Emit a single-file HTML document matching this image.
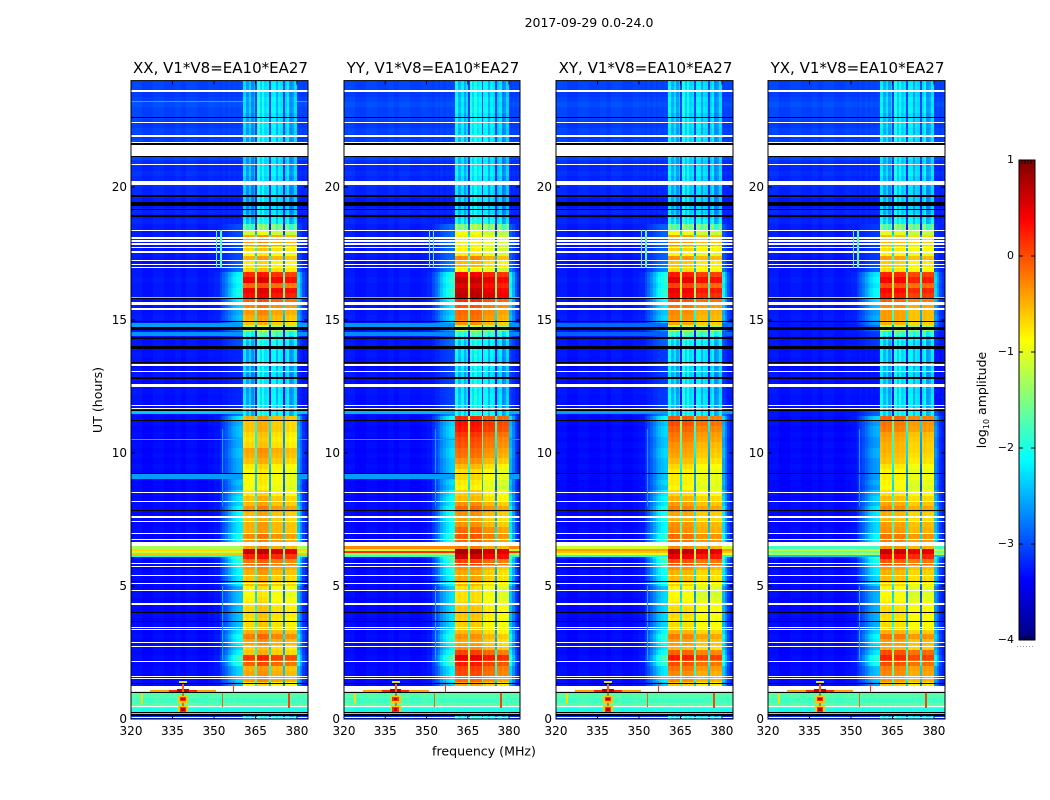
<!DOCTYPE html>
<html>
<head>
<meta charset="utf-8">
<title>2017-09-29 0.0-24.0</title>
<style>
html,body{margin:0;padding:0;background:#fff;width:1050px;height:800px;overflow:hidden}
svg{display:block}
text{font-family:"DejaVu Sans","Liberation Sans",sans-serif;fill:#000}
</style>
</head>
<body>
<svg id="figure" xmlns="http://www.w3.org/2000/svg" width="1050" height="800" viewBox="0 0 1050 800">
<text x="589" y="27" font-size="12.5" text-anchor="middle">2017-09-29 0.0-24.0</text>
<text transform="translate(102,400) rotate(-90)" font-size="12.6" text-anchor="middle">UT (hours)</text>
<text x="484" y="755.5" font-size="12.6" text-anchor="middle">frequency (MHz)</text>
<text transform="translate(986,400) rotate(-90)" font-size="12.5" text-anchor="middle">log<tspan font-size="8" dy="3">10</tspan><tspan dy="-3"> amplitude</tspan></text>
<g id="panels"></g>
<g id="colorbar"></g>
</svg>
<script>
// ---------- axis ticks ----------
const freqTicks = [320, 335, 350, 365, 380];
const hourTicks = [0, 5, 10, 15, 20];
const colorTicks = [1, 0, -1, -2, -3, -4];

// ---------- frequency channels (MHz edges; one more edge than channels) ----------
const channelEdges = [320,324,328,332,336,338,340,344,348,350,352,353,354,355,356,357,358,359,360,360.5,
361.5,362.5,363.5,364.3,365,365.7,
366.5,367.3,368.2,369,370,370.6,
371.5,372.3,373.2,374,375,375.7,
376.5,377.3,378.2,379,380,
381,382,383,384];
// sub-band membership of each channel (-1 = outside the receiver band)
const channelBand = [-1,-1,-1,-1,-1,-1,-1,-1,-1,-1,-1,-1,-1,-1,-1,-1,-1,-1,-1,
0,0,0,0,0,0,
1,1,1,1,1,1,
2,2,2,2,2,2,
3,3,3,3,3,
-1,-1,-1,-1];
// log10 offset of each channel relative to its sub-band / the noise floor
const channelOffset = [0.03,-0.03,0.02,-0.02,0.02,-0.03,0.03,-0.02,0.02,0,-0.03,0.02,-0.02,0.03,-0.02,0.02,0,0.02,-0.02,
-0.02,0.05,-0.02,0.03,0,-1.4,
0.03,0.07,0,0.04,0,-1.7,
0.05,0,0.05,0,0.03,-1.9,
0,0.05,-0.02,0.03,0,
-0.02,0.02,-0.02,0.02];
// extra bandpass ripple, visible only while the in-band signal is weak
const channelRipple = [0,0,0,0,0,0,0,0,0,0,0,0,0,0,0,0,0,0,0,
0.2,-0.25,0.1,-0.3,0,0,
0.35,-0.05,0.3,0,0.15,0,
0.3,0.35,-0.1,0.3,0.2,0,
0.2,0.3,-0.15,-0.1,0.25,
0,0,0,0];
// how strongly the band-edge skirt leaks into each channel
const channelSkirt = [0,0,0,0,0,0,0,0,0,0.06,0.2,0.3,0.45,0.6,0.75,0.85,0.95,1,1,
0,0,0,0,0,0,
0,0,0,0,0,0,
0,0,0,0,0,0,
0,0,0,0,0,
0.85,0.55,0.25,0.1];

// ---------- time rows: 120 rows of 0.2 h each, listed from 24 h down to 0 h ----------
const floorLevel = [
-3.05,-3.05,-3.1,-3.05,-3.0,-3.05,-3.05,-3.05,-3.1,-3.05,
-3.1,-3.05,-3.1,-3.05,-3.05,-3.15,-3.2,-3.15,-3.2,-3.15,
-3.2,-3.2,-3.25,-3.25,-3.2,-3.25,-3.2,-3.25,-3.25,-3.25,
-3.28,-3.28,-3.26,-3.28,-3.3,-3.28,-3.28,-3.26,-3.28,-3.28,
-3.28,-3.3,-3.28,-3.28,-3.26,-3.28,-3.28,-3.28,-3.3,-3.28,
-3.3,-3.28,-3.3,-3.33,-3.3,-3.28,-3.33,-3.3,-3.28,-3.3,
-3.3,-3.33,-3.3,-3.33,-3.33,-3.36,-3.33,-3.36,-3.33,-3.36,
-3.33,-3.36,-3.33,-3.36,-3.33,-3.36,-3.36,-3.33,-3.36,-3.33,
-3.33,-3.36,-3.33,-3.36,-3.33,-3.36,-3.33,-3.33,-3.36,-3.33,
-3.33,-3.36,-3.33,-3.36,-3.33,-3.36,-3.33,-3.36,-3.33,-3.36,
-3.33,-3.36,-3.33,-3.36,-3.33,-3.36,-3.33,-3.36,-3.33,-3.36,
-3.33,-3.33,-3.33,-3.33,-3.15,-1.72,-1.8,-1.68,-2.0,-3.15];
const skirtLevel = [
-9,-9,-9,-9,-9,-9,-9,-9,-9,-9,
-9,-9,-9,-9,-9,-9,-9,-9,-9,-9,
-9,-9,-9,-9,-9,-9,-9,-3.0,-3.0,-3.0,
-3,-3,-3,-3,-2.9,-2.8,-2.1,-2,-2.1,-2,
-2,-2.2,-2.3,-2.5,-2.4,-2.5,-2.7,-3,-3,-3,
-3.2,-3.2,-3.2,-3.2,-3.2,-3.2,-3.2,-3.2,-3.2,-3.2,
-3.2,-3.2,-2.8,-2.2,-2.5,-2.4,-2.4,-2.5,-2.5,-2.4,
-2.4,-2.5,-2.5,-2.5,-2.5,-2.4,-2.5,-2.3,-2.2,-2.3,
-2.1,-2.1,-2.1,-2.2,-2.2,-2.0,-2.0,-2.1,-1.5,-1.7,
-1.9,-2.1,-2.1,-2.2,-2.2,-2.5,-2.4,-2.4,-2.4,-2.4,
-2.4,-2.4,-2.4,-2.2,-2.0,-2.1,-2.3,-2.1,-1.8,-1.9,
-2.3,-2.3,-2.3,-2.5,-9,-9,-9,-9,-9,-9];

// In-band amplitude per row for each correlation (-9 = no in-band signal)
const xxInband = [
-2.45,-2.4,-2.5,-2.4,-2.45,-2.4,-2.5,-2.45,-2.4,-2.45,
-2.4,-2.45,-2.5,-2.4,-2.45,-2.5,-2.45,-2.4,-2.5,-2.45,
-2.5,-2.5,-2.5,-2.55,-2.5,-2.4,-2.3,-1.7,-1.1,-0.45,
-0.4,-0.7,-0.9,-0.5,-0.8,-0.7,0.15,0.4,-0.15,0.4,
0.3,-0.1,-0.3,-0.4,-0.5,-0.6,-1.3,-1.9,-2.2,-2.3,
-2.4,-2.4,-2.4,-2.45,-2.4,-2.5,-2.4,-2.4,-2.45,-2.4,
-2.4,-2.4,-2.3,-0.5,-0.6,-0.6,-0.7,-0.75,-0.7,-0.45,
-0.5,-0.6,-0.8,-0.9,-0.9,-0.9,-0.95,-0.8,-0.6,-0.55,
-0.35,-0.55,-0.6,-0.5,-0.5,-0.3,-0.4,-0.45,0.6,0.2,
-0.2,-0.4,-0.5,-0.6,-0.6,-0.85,-0.9,-0.85,-0.75,-0.7,
-0.7,-0.75,-0.7,-0.5,-0.25,-0.45,-0.7,-0.6,0.1,-0.1,
-0.5,-0.45,-0.4,-0.8,-9,-9,-9,-9,-9,-2.4];
const yyInband = [
-2.45,-2.4,-2.5,-2.4,-2.45,-2.4,-2.5,-2.45,-2.4,-2.45,
-2.4,-2.45,-2.5,-2.4,-2.45,-2.5,-2.45,-2.4,-2.5,-2.45,
-2.5,-2.5,-2.5,-2.55,-2.5,-2.4,-2.3,-1.6,-1.1,-0.95,
-0.95,-1,-0.95,-0.45,-0.7,-1,0.25,0.5,0.35,0.5,
0.55,0,-0.2,-0.3,-0.35,-0.5,-1.4,-2,-2.3,-2.4,
-2.4,-2.4,-2.45,-2.4,-2.45,-2.5,-2.4,-2.4,-2.45,-2.4,
-2.4,-2.4,-2.3,0,0.15,0.1,-0.05,-0.15,-0.2,-0.3,
-0.35,-0.5,-0.7,-0.9,-0.85,-0.95,-1,-0.8,-0.7,-0.5,
-0.3,-0.5,-0.6,-0.5,-0.3,-0.2,-0.3,-0.4,0.65,0.45,
-0.1,-0.5,-0.6,-0.6,-0.7,-0.9,-0.9,-0.9,-0.8,-0.75,
-0.75,-0.8,-0.8,-0.7,-0.5,-0.6,-0.5,-0.1,0.3,0.1,
-0.1,-0.15,-0.3,-0.6,-9,-9,-9,-9,-9,-2.4];
const xyInband = [
-2.45,-2.4,-2.5,-2.4,-2.45,-2.4,-2.5,-2.45,-2.4,-2.45,
-2.4,-2.45,-2.5,-2.4,-2.45,-2.5,-2.45,-2.4,-2.5,-2.45,
-2.5,-2.5,-2.5,-2.55,-2.5,-2.4,-2.3,-1.7,-1.05,-0.5,
-0.45,-0.75,-0.95,-0.45,-0.7,-0.8,0.15,0.4,-0.05,0.35,
0.25,-0.1,-0.3,-0.4,-0.45,-0.55,-1.3,-1.9,-2.2,-2.3,
-2.4,-2.4,-2.4,-2.45,-2.4,-2.5,-2.4,-2.4,-2.45,-2.4,
-2.4,-2.4,-2.3,-0.15,-0.1,-0.2,-0.3,-0.35,-0.45,-0.5,
-0.55,-0.65,-0.8,-0.9,-0.9,-0.9,-0.95,-0.8,-0.6,-0.5,
-0.35,-0.55,-0.6,-0.45,-0.4,-0.25,-0.3,-0.4,0.6,0.35,
-0.1,-0.45,-0.6,-0.65,-0.75,-0.95,-1,-0.95,-0.85,-0.8,
-0.8,-0.85,-0.8,-0.6,-0.35,-0.5,-0.65,-0.2,0.15,-0.1,
-0.3,-0.4,-0.4,-0.7,-9,-9,-9,-9,-9,-2.4];
const yxInband = [
-2.45,-2.4,-2.5,-2.4,-2.45,-2.4,-2.5,-2.45,-2.4,-2.45,
-2.4,-2.45,-2.5,-2.4,-2.45,-2.5,-2.45,-2.4,-2.5,-2.45,
-2.5,-2.5,-2.5,-2.55,-2.5,-2.4,-2.3,-1.7,-1.1,-0.65,
-0.6,-0.85,-0.95,-0.5,-0.75,-0.85,0.1,0.3,-0.1,0.25,
0.15,-0.2,-0.4,-0.5,-0.5,-0.6,-1.4,-2,-2.3,-2.4,
-2.4,-2.4,-2.4,-2.45,-2.4,-2.5,-2.4,-2.4,-2.45,-2.4,
-2.4,-2.4,-2.3,-0.2,-0.3,-0.35,-0.5,-0.55,-0.6,-0.6,
-0.65,-0.7,-0.85,-0.95,-0.9,-0.95,-1,-0.85,-0.65,-0.55,
-0.4,-0.6,-0.65,-0.5,-0.45,-0.3,-0.35,-0.45,0.55,0.25,
-0.15,-0.5,-0.6,-0.65,-0.75,-0.95,-1,-0.95,-0.85,-0.8,
-0.8,-0.85,-0.8,-0.6,-0.3,-0.5,-0.6,-0.1,0.1,-0.1,
-0.35,-0.4,-0.45,-0.7,-9,-9,-9,-9,-9,-2.4];

// sub-band offsets [360-365, 366-370, 371-375, 376-380] per correlation
const xxSubband = [0, 0.1, -0.05, -0.1];
const yySubband = [0.15, 0.15, -0.05, -0.15];
const xySubband = [0.1, 0.05, -0.1, -0.1];
const yxSubband = [0.1, 0.05, -0.1, -0.05];
const skirtOffsets = [0, 0.15, 0.1, -0.1];

// Broadband interference per correlation: [hour start, hour end, log10 amplitude]
const xxBroadband = [[23.25,23.2,-2.5],[15.88,15.82,-0.5],[14.90,14.71,-2.6],[14.56,14.40,-2.65],[11.57,11.47,-2.4],[10.52,10.48,-2.5],[9.21,9.03,-2.6],[6.50,6.39,-1.3],[6.39,6.32,-0.7],[6.32,6.24,-1.2],[6.24,6.17,-0.6],[6.17,6.09,-2.0]];
const yyBroadband = [[15.88,15.82,-0.4],[14.90,14.71,-2.65],[14.56,14.40,-2.7],[11.57,11.47,-2.5],[10.52,10.48,-2.6],[9.21,9.03,-2.6],[6.50,6.39,-0.3],[6.39,6.32,-1.1],[6.32,6.24,0.15],[6.24,6.17,-1.4],[6.17,6.09,-1.9]];
const xyBroadband = [[15.88,15.82,-1.2],[14.90,14.71,-2.85],[14.56,14.40,-2.9],[11.57,11.47,-2.6],[6.50,6.39,-1.1],[6.39,6.32,-0.4],[6.32,6.24,-0.6],[6.24,6.17,-1.0],[6.17,6.09,-2.0]];
const yxBroadband = [[15.88,15.82,-0.7],[6.50,6.39,-1.8],[6.39,6.32,-1.2],[6.32,6.24,-1.6],[6.24,6.17,-1.3],[6.17,6.09,-2.4]];

// Narrow-band interference: [centre MHz, width MHz, hour start, hour end, log10 amplitude]
const rfiSpikes = [
[352,64,1.07,1.015,-1.0],[338.8,24,1.09,1.015,-0.4],[338.8,10,1.1,1.015,0.2],[338.8,4,1.12,1.0,0.7],
[338.8,0.8,1.35,0.28,-0.1],
[338.8,3.6,0.88,0.62,-0.6],[338.8,2.4,0.84,0.66,0.15],[338.8,1.2,0.8,0.7,0.7],
[338.8,3.6,0.48,0.22,-0.6],[338.8,2.4,0.44,0.26,0.15],[338.8,1.2,0.4,0.3,0.7],
[338.8,3,1.42,1.3,-1.3],[338.8,1.4,1.38,1.3,-0.7],
[377,0.7,0.98,0.4,0.05],[353,0.5,0.98,0.45,-0.1],[357,0.5,1.42,0.98,0.1],[324,0.6,0.95,0.6,-0.7],
[351,0.5,18.4,16.95,-1.75],[352.6,0.5,18.4,16.95,-1.75],[353.2,0.4,5.0,2.2,-2.5],[353.2,0.4,10.9,8.0,-2.6]];

// Flagged (blank) time ranges in hours: [start, end]
const whiteFlags = [[23.65,23.59],[22.44,22.39],[21.97,21.88],[21.69,21.64],[21.58,21.17],[20.88,20.83],[20.21,20.16],[20.15,20.09],[18.40,18.35],[18.12,18.06],[18.01,17.95],[17.88,17.82],[17.76,17.71],[17.58,17.52],[17.26,17.20],[17.12,17.07],[17.01,16.95],[15.68,15.55],[15.46,15.38],[13.33,13.27],[13.09,13.06],[12.59,12.49],[11.79,11.76],[11.69,11.65],[8.53,8.50],[8.20,8.16],[7.63,7.55],[7.43,7.39],[6.98,6.94],[6.77,6.73],[6.64,6.50],[5.85,5.82],[5.75,5.71],[5.40,5.36],[5.11,5.08],[4.85,4.81],[4.35,4.27],[3.47,3.43],[3.39,3.36],[2.88,2.85],[2.74,2.71],[2.17,2.13],[1.62,1.58],[1.53,1.49],[1.25,1.07],[0.47,0.44],[0.09,0.06]];
const blackFlags = [[22.63,22.58],[21.64,21.58],[21.17,21.13],[19.70,19.64],[19.45,19.29],[19.17,19.12],[18.95,18.89],[15.83,15.78],[14.96,14.92],[14.72,14.64],[14.35,14.27],[14.02,13.92],[13.43,13.39],[12.85,12.78],[11.62,11.58],[11.24,11.20],[9.26,9.21],[7.87,7.83],[5.18,5.14],[4.03,3.99],[3.68,3.65],[1.36,1.32],[1.015,0.98],[0.28,0.23],[0.17,0.13]];

const panelTitles = ["XX, V1*V8=EA10*EA27","YY, V1*V8=EA10*EA27","XY, V1*V8=EA10*EA27","YX, V1*V8=EA10*EA27"];
const panelLefts = [131, 344, 556, 768];
const panelWidths = [177, 176, 177, 177];
const panelInband = [xxInband, yyInband, xyInband, yxInband];
const panelSubband = [xxSubband, yySubband, xySubband, yxSubband];
const panelBroadband = [xxBroadband, yyBroadband, xyBroadband, yxBroadband];

// ---------- scales ----------
const NS = "http://www.w3.org/2000/svg";
const plotTop = 80.6, plotBottom = 719, hourMax = 24, freqMin = 320, freqMax = 384;
const levelMin = -4, levelMax = 1;
function yScale(h) { return plotBottom - (h / hourMax) * (plotBottom - plotTop); }
function xScale(p, f) { return panelLefts[p] + (f - freqMin) / (freqMax - freqMin) * panelWidths[p]; }
function jetPart(x) { return Math.max(0, Math.min(1, x)); }
function jet(level) {
  const t = jetPart((level - levelMin) / (levelMax - levelMin));
  const r = jetPart(Math.min(4 * t - 1.5, -4 * t + 4.5));
  const g = jetPart(Math.min(4 * t - 0.5, -4 * t + 3.5));
  const b = jetPart(Math.min(4 * t + 0.5, -4 * t + 2.5));
  return "rgb(" + Math.round(r * 255) + "," + Math.round(g * 255) + "," + Math.round(b * 255) + ")";
}
function rectEl(parent, x0, y0, x1, y1, fill) {
  const r = document.createElementNS(NS, "rect");
  const rx = Math.round(x0), ry = Math.round(y0);
  r.setAttribute("x", rx);
  r.setAttribute("y", ry);
  r.setAttribute("width", Math.max(1, Math.round(x1) - rx));
  r.setAttribute("height", Math.max(1, Math.round(y1) - ry));
  r.setAttribute("fill", fill);
  parent.appendChild(r);
  return r;
}
function textEl(parent, x, y, str, size, anchor) {
  const t = document.createElementNS(NS, "text");
  t.setAttribute("x", x);
  t.setAttribute("y", y);
  t.setAttribute("font-size", size);
  t.setAttribute("text-anchor", anchor);
  t.textContent = str;
  parent.appendChild(t);
  return t;
}
function cellLevel(p, row, ch) {
  const band = channelBand[ch];
  const floor = floorLevel[row] + (band < 0 ? channelOffset[ch] : 0);
  let v = floor;
  if (skirtLevel[row] > -9 && channelSkirt[ch] > 0) {
    const s = skirtLevel[row] + skirtOffsets[p];
    v = Math.max(v, floor + (s - floor) * channelSkirt[ch]);
  }
  const inband = panelInband[p][row];
  if (band >= 0 && inband > -9) {
    const ripple = inband < -1.5 ? channelRipple[ch] : 0;
    v = Math.max(v, inband + panelSubband[p][band] + channelOffset[ch] + ripple);
  }
  return v;
}

// ---------- panels ----------
const panelsGroup = document.getElementById("panels");
panelTitles.forEach(function (title, p) {
  const g = document.createElementNS(NS, "g");
  
  
  panelsGroup.appendChild(g);

  const hm = document.createElementNS(NS, "g");
  hm.setAttribute("shape-rendering", "crispEdges");
  
  
  g.appendChild(hm);

  const rowHours = hourMax / floorLevel.length;
  floorLevel.forEach(function (_, row) {
    const hTop = hourMax - row * rowHours, hBot = hTop - rowHours;
    for (let ch = 0; ch < channelEdges.length - 1; ch++) {
      const cell = rectEl(hm, xScale(p, channelEdges[ch]), yScale(hTop), xScale(p, channelEdges[ch + 1]), yScale(hBot), jet(cellLevel(p, row, ch)));
      
      
    }
  });

  // broadband rows keep the in-band channels at their own level
  panelBroadband[p].forEach(function (b) {
    const x0 = xScale(p, freqMin), x1 = xScale(p, 360.5);
    const line = rectEl(hm, x0, yScale(b[0]), x1, yScale(b[1]), jet(b[2]));
    
    
    const right = rectEl(hm, xScale(p, 380), yScale(b[0]), xScale(p, freqMax), yScale(b[1]), jet(b[2]));
    
    
  });

  whiteFlags.forEach(function (f) {
    const flag = rectEl(hm, xScale(p, freqMin), yScale(f[0]), xScale(p, freqMax), yScale(f[1]), "#fff");
    
    
  });

  rfiSpikes.forEach(function (s) {
    const spike = rectEl(hm, xScale(p, s[0] - s[1] / 2), yScale(s[2]), xScale(p, s[0] + s[1] / 2), yScale(s[3]), jet(s[4]));
    
    
  });

  blackFlags.forEach(function (f) {
    const flag = rectEl(hm, xScale(p, freqMin), yScale(f[0]), xScale(p, freqMax), yScale(f[1]), "#000");
    
    
  });

  // frame
  const left = panelLefts[p], right = panelLefts[p] + panelWidths[p];
  const frame = document.createElementNS(NS, "rect");
  frame.setAttribute("x", left);
  frame.setAttribute("y", plotTop);
  frame.setAttribute("width", panelWidths[p]);
  frame.setAttribute("height", plotBottom - plotTop);
  frame.setAttribute("fill", "none");
  frame.setAttribute("stroke", "#000");
  frame.setAttribute("stroke-width", "1");
  
  
  g.appendChild(frame);

  // ticks
  freqTicks.forEach(function (f) {
    const x = xScale(p, f);
    const t = document.createElementNS(NS, "path");
    t.setAttribute("d", "M" + x + " " + plotBottom + "v-4M" + x + " " + plotTop + "v4");
    t.setAttribute("stroke", "#000");
    t.setAttribute("fill", "none");
    
    
    g.appendChild(t);
    const label = textEl(g, x, 735, String(f), 12, "middle");
    
    
  });
  hourTicks.forEach(function (h) {
    const y = yScale(h);
    const t = document.createElementNS(NS, "path");
    t.setAttribute("d", "M" + left + " " + y + "h4M" + right + " " + y + "h-4");
    t.setAttribute("stroke", "#000");
    t.setAttribute("fill", "none");
    
    
    g.appendChild(t);
    const label = textEl(g, left - 4, y + 4, String(h), 12, "end");
    
    
  });

  const titleEl = textEl(g, left + panelWidths[p] / 2 + 1, 73, title, 15, "middle");
  
  
});

// ---------- colorbar ----------
const cbGroup = document.getElementById("colorbar");
const cbLeft = 1019, cbRight = 1035, cbTop = 160, cbBottom = 640;
function cbY(level) { return cbBottom - (level - levelMin) / (levelMax - levelMin) * (cbBottom - cbTop); }
const cbSwatches = document.createElementNS(NS, "g");
cbSwatches.setAttribute("shape-rendering", "crispEdges");


cbGroup.appendChild(cbSwatches);
for (let py = cbTop; py < cbBottom; py += 2) {
  const lvl = levelMax - (py + 1 - cbTop) / (cbBottom - cbTop) * (levelMax - levelMin);
  rectEl(cbSwatches, cbLeft, py, cbRight, py + 2, jet(lvl));
}
const cbFrame = document.createElementNS(NS, "rect");
cbFrame.setAttribute("x", cbLeft);
cbFrame.setAttribute("y", cbTop);
cbFrame.setAttribute("width", cbRight - cbLeft);
cbFrame.setAttribute("height", cbBottom - cbTop);
cbFrame.setAttribute("fill", "none");
cbFrame.setAttribute("stroke", "#000");


cbGroup.appendChild(cbFrame);
const cbComb = document.createElementNS(NS, "path");
cbComb.setAttribute("d", "M1022 160v4M1025 160v4M1028 160v4M1031 160v4M1022 640v-4M1025 640v-4M1028 640v-4M1031 640v-4");
cbComb.setAttribute("stroke", "#000");
cbComb.setAttribute("fill", "none");


cbGroup.appendChild(cbComb);
colorTicks.forEach(function (c) {
  const y = cbY(c);
  const t = document.createElementNS(NS, "path");
  t.setAttribute("d", "M" + cbLeft + " " + y + "h4M" + cbRight + " " + y + "h-4");
  t.setAttribute("stroke", "#000");
  t.setAttribute("fill", "none");
  
  
  cbGroup.appendChild(t);
  const label = textEl(cbGroup, 1014, y + 3, String(c).replace("-", "\u2212"), 11, "end");
  
  
});
const cbDots = document.createElementNS(NS, "path");
cbDots.setAttribute("d", "M1017 646.5H1035");
cbDots.setAttribute("stroke", "#999");
cbDots.setAttribute("stroke-dasharray", "1 2");


cbGroup.appendChild(cbDots);
</script>
</body>
</html>
